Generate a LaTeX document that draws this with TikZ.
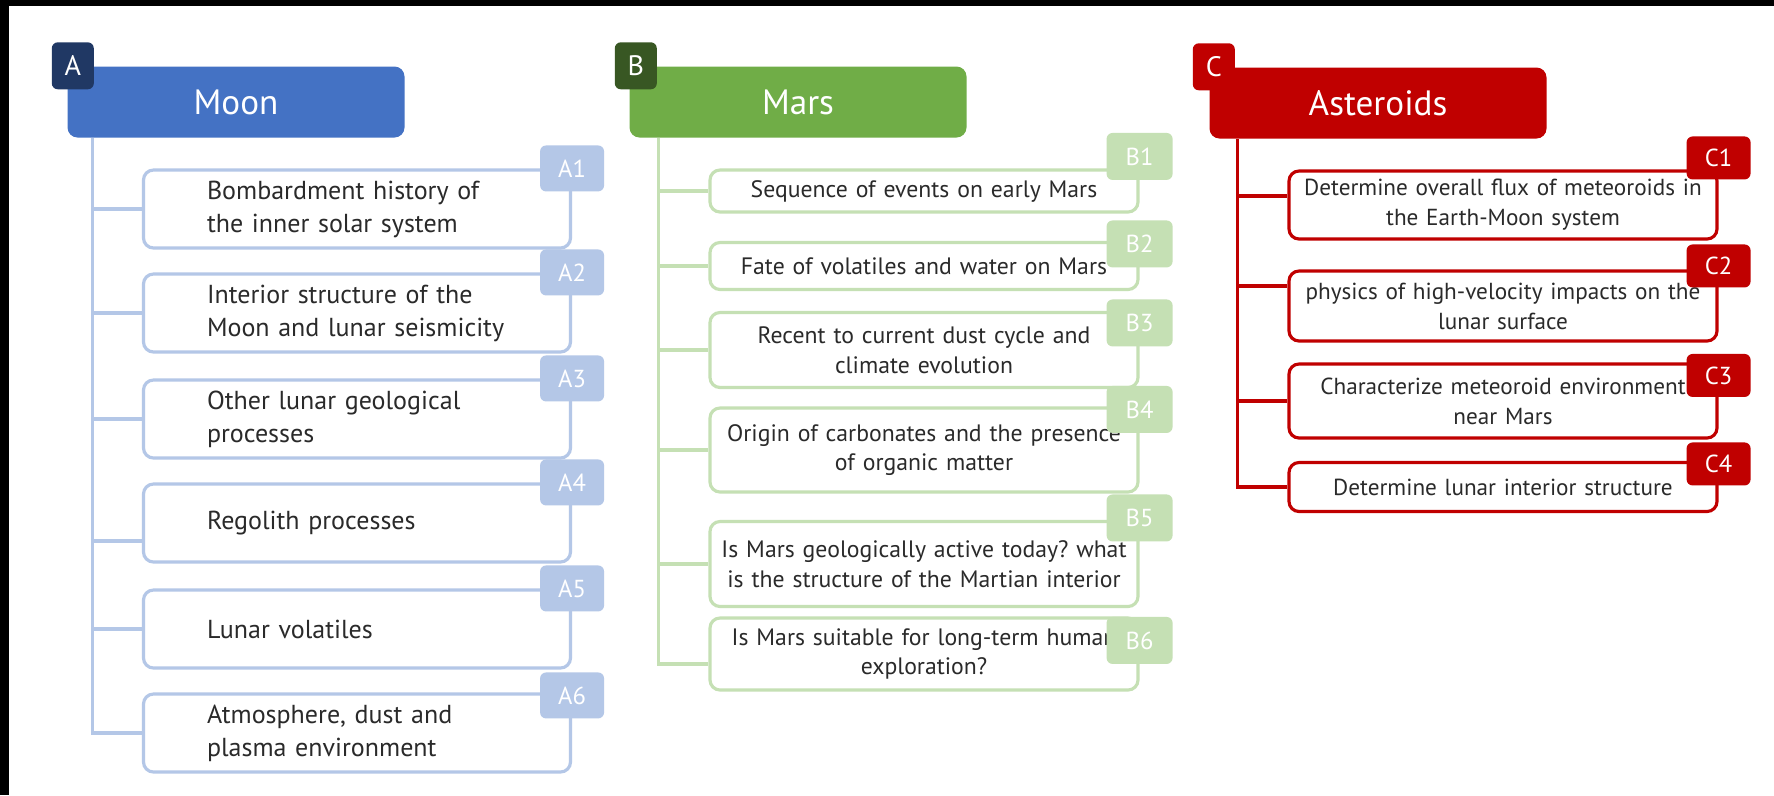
\documentclass[tikz,border=0pt]{standalone}
\usepackage{fontspec}
\setmainfont{PT Sans}
\usepackage{tikz}
\usetikzlibrary{calc,positioning}
\frenchspacing
\definecolor{moonblue}{HTML}{4472C4}
\definecolor{moondark}{HTML}{203864}
\definecolor{moonlight}{HTML}{B4C7E7}
\definecolor{marsgreen}{HTML}{70AD47}
\definecolor{marsdark}{HTML}{385723}
\definecolor{marslight}{HTML}{C5E0B4}
\definecolor{astred}{HTML}{C00000}
\definecolor{bodytext}{HTML}{2A2A2A}
\tikzset{
  head node/.style={rounded corners=1mm,minimum width=33.7mm,minimum height=7.1mm,
    inner sep=0pt,text=white,font=\fontsize{10}{12}\selectfont},
  letter node/.style={rounded corners=0.6mm,minimum width=4.2mm,minimum height=4.7mm,
    inner sep=0pt,text=white,font=\fontsize{8}{9}\selectfont},
  topic node/.style={draw,fill=white,rounded corners=1mm,line width=0.9pt,
    minimum width=42.8mm,inner sep=0pt,text=bodytext},
  moon topic/.style={topic node,draw=moonlight,minimum width=42.7mm,minimum height=7.8mm,
    text width=30mm,align=left,font=\fontsize{7.4}{9.4}\selectfont},
  mars topic/.style={topic node,draw=marslight,text width=42mm,align=center,
    font=\fontsize{6.75}{8.5}\selectfont},
  ast topic/.style={topic node,draw=astred,text width=42mm,align=center,
    font=\fontsize{6.6}{8.5}\selectfont},
  tag node/.style={rounded corners=0.6mm,minimum width=6.4mm,minimum height=4.6mm,
    inner sep=0pt,text=white,font=\fontsize{7}{8}\selectfont},
  tree line/.style={line width=0.9pt},
}
\begin{document}
\begin{tikzpicture}[x=0.1mm,y=-0.1mm]
  \useasboundingbox (0,0) rectangle (1774,795);
  \fill[white] (0,0) rectangle (1774,795);
  \fill[black] (0,0) rectangle (1774,6); \fill[black] (0,0) rectangle (9,795);

  % Moon
  \node[head node,fill=moonblue] (moon) at (236,102) {Moon};
  \node[letter node,fill=moondark,xshift=0.6mm] (moonA) at (moon.north west) {A};
  \node[moon topic] (a1) at (357,209) {Bombardment history of\\the inner solar system};
  \node[moon topic] (a2) at (357,313) {Interior structure of the\\Moon and lunar seismicity};
  \node[moon topic] (a3) at (357,419) {Other lunar geological\\processes};
  \node[moon topic] (a4) at (357,523) {Regolith processes};
  \node[moon topic] (a5) at (357,629) {Lunar volatiles};
  \node[moon topic] (a6) at (357,733) {Atmosphere, dust and\\plasma environment};
  \node[tag node,fill=moonlight] (a1tag) at (a1.north east) {A1};
  \node[tag node,fill=moonlight] (a2tag) at (a2.north east) {A2};
  \node[tag node,fill=moonlight] (a3tag) at (a3.north east) {A3};
  \node[tag node,fill=moonlight] (a4tag) at (a4.north east) {A4};
  \node[tag node,fill=moonlight] (a5tag) at (a5.north east) {A5};
  \node[tag node,fill=moonlight,yshift=-0.3mm] (a6tag) at (a6.north east) {A6};
  \coordinate (moontrunk) at ([xshift=2.6mm]moon.south west);
  \draw[tree line,moonlight] (moontrunk) |- (a6.west);
  \draw[tree line,moonlight] (moontrunk |- a1.west) -- (a1.west);
  \draw[tree line,moonlight] (moontrunk |- a2.west) -- (a2.west);
  \draw[tree line,moonlight] (moontrunk |- a3.west) -- (a3.west);
  \draw[tree line,moonlight] (moontrunk |- 0,541) -- (a4.west |- 0,541);
  \draw[tree line,moonlight] (moontrunk |- a5.west) -- (a5.west);

  % Mars
  \node[head node,fill=marsgreen] (mars) at (798,102) {Mars};
  \node[letter node,fill=marsdark,xshift=0.7mm] (marsB) at (mars.north west) {B};
  \node[mars topic,minimum height=4.2mm] (b1) at (924,191) {Sequence of events on early Mars};
  \node[mars topic,minimum height=4.7mm] (b2) at (924,266) {Fate of volatiles and water on Mars};
  \node[mars topic,minimum height=7.5mm] (b3) at (924,350)
    {Recent to current dust cycle and\\climate evolution};
  \node[mars topic,minimum height=8.4mm] (b4) at (924,450)
    {Origin of carbonates and the presence\\of organic matter};
  \node[mars topic,minimum height=8.5mm] (b5) at (924,564)
    {Is Mars geologically active today? what\\is the structure of the Martian interior};
  \node[mars topic,minimum height=7.2mm] (b6) at (924,654)
    {Is Mars suitable for long-term human\\exploration?};
  \node[tag node,fill=marslight,minimum width=6.6mm,minimum height=4.7mm,yshift=1.2mm]
    (b1tag) at (b1.north east) {B1};
  \node[tag node,fill=marslight,minimum width=6.6mm,minimum height=4.7mm,yshift=-0.3mm]
    (b2tag) at (b2.north east) {B2};
  \node[tag node,fill=marslight,minimum width=6.6mm,minimum height=4.7mm,yshift=-1.2mm]
    (b3tag) at (b3.north east) {B3};
  \node[tag node,fill=marslight,minimum width=6.6mm,minimum height=4.7mm,yshift=-0.3mm]
    (b4tag) at (b4.north east) {B4};
  \node[tag node,fill=marslight,minimum width=6.6mm,minimum height=4.7mm,yshift=0.2mm]
    (b5tag) at (b5.north east) {B5};
  \node[tag node,fill=marslight,minimum width=6.6mm,minimum height=4.7mm,yshift=-2.4mm]
    (b6tag) at (b6.north east) {B6};
  \coordinate (marstrunk) at ([xshift=3mm]mars.south west);
  \draw[tree line,marslight] (marstrunk) |- (b6.west |- 0,664);
  \draw[tree line,marslight] (marstrunk |- b1.west) -- (b1.west);
  \draw[tree line,marslight] (marstrunk |- b2.west) -- (b2.west);
  \draw[tree line,marslight] (marstrunk |- b3.west) -- (b3.west);
  \draw[tree line,marslight] (marstrunk |- b4.west) -- (b4.west);
  \draw[tree line,marslight] (marstrunk |- b5.west) -- (b5.west);

  % Asteroids
  \node[head node,fill=astred] (ast) at (1378,103) {Asteroids};
  \node[letter node,fill=astred,xshift=0.5mm] (astC) at (ast.north west) {C};
  \node[ast topic,minimum height=6.8mm] (c1) at (1503,205)
    {Determine overall flux of meteoroids in\\the Earth-Moon system};
  \node[ast topic,minimum height=7mm] (c2) at (1503,306)
    {physics of high-velocity impacts on the\\lunar surface};
  \node[ast topic,minimum height=7.4mm] (c3) at (1503,401)
    {Characterize meteoroid environment\\near Mars};
  \node[ast topic,minimum height=4.9mm] (c4) at (1503,487) {Determine lunar interior structure};
  \node[tag node,fill=astred,minimum height=4.3mm,yshift=1.15mm] (c1tag) at (c1.north east) {C1};
  \node[tag node,fill=astred,minimum height=4.3mm,yshift=0.35mm] (c2tag) at (c2.north east) {C2};
  \node[tag node,fill=astred,minimum height=4.3mm,yshift=-1.3mm] (c3tag) at (c3.north east) {C3};
  \node[tag node,fill=astred,minimum height=4.3mm,yshift=-0.3mm] (c4tag) at (c4.north east) {C4};
  \coordinate (asttrunk) at ([xshift=2.9mm]ast.south west);
  \draw[tree line,astred] (asttrunk) |- (c4.west);
  \draw[tree line,astred] (asttrunk |- 0,196) -- (c1.west |- 0,196);
  \draw[tree line,astred] (asttrunk |- 0,286) -- (c2.west |- 0,286);
  \draw[tree line,astred] (asttrunk |- c3.west) -- (c3.west);
\end{tikzpicture}
\end{document}
